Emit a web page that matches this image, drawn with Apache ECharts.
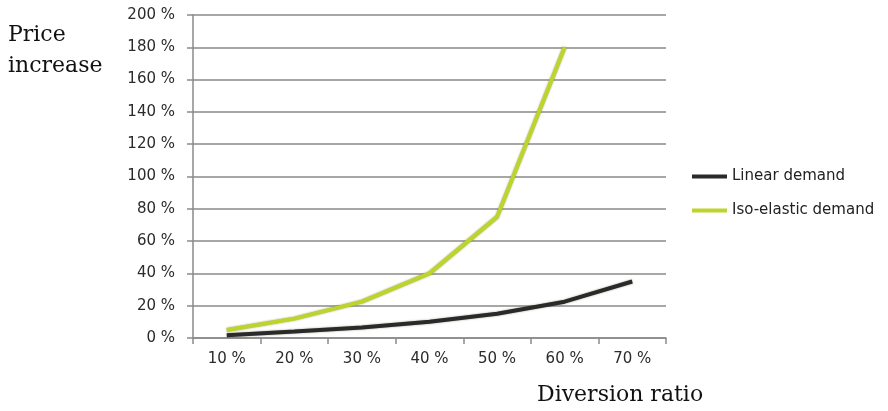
<!DOCTYPE html>
<html>
<head>
<meta charset="utf-8">
<script src="https://cdn.jsdelivr.net/npm/echarts@6/dist/echarts.min.js"></script>
<style>
  html, body { margin: 0; padding: 0; background: #fff; }
  #chart { width: 888px; height: 411px; }
</style>
</head>
<body>
<div id="chart"></div>
<script>
// Diversion ratio categories (x axis)
const diversionRatios = ['10 %', '20 %', '30 %', '40 %', '50 %', '60 %', '70 %'];
// Price increase in percent for each demand model
const linearDemand = [1.7, 4, 6.5, 10, 15, 22.5, 35];
const isoElasticDemand = [5, 12, 22.5, 40, 75, 180, null];
// Y axis range and step (percent)
const yMin = 0, yMax = 200, yStep = 20;

const chart = echarts.init(document.getElementById('chart'), null, { renderer: 'canvas' });

const tickFont = { fontFamily: 'DejaVu Sans', fontSize: 15, color: '#2b2b2b' };
const titleFont = { fontFamily: 'DejaVu Serif', fontSize: 22, fill: '#111' };

chart.setOption({
  animation: false,
  backgroundColor: '#fff',
  grid: { left: 193, right: 222, top: 15, bottom: 73, containLabel: false },
  legend: {
    orient: 'vertical',
    left: 687,
    top: 164,
    itemWidth: 35,
    itemHeight: 4,
    itemGap: 19,
    icon: 'rect',
    textStyle: { fontFamily: 'DejaVu Sans', fontSize: 15, color: '#222' },
    data: ['Linear demand', 'Iso-elastic demand']
  },
  xAxis: {
    type: 'category',
    data: diversionRatios,
    boundaryGap: true,
    axisLine: { lineStyle: { color: '#8a8a8a', width: 1.5 } },
    axisTick: { show: true, length: 6, lineStyle: { color: '#8a8a8a', width: 1.5 } },
    axisLabel: Object.assign({ margin: 14 }, tickFont),
    splitLine: { show: false }
  },
  yAxis: {
    type: 'value',
    min: yMin,
    max: yMax,
    interval: yStep,
    axisLine: { show: true, lineStyle: { color: '#8a8a8a', width: 1.5 } },
    axisTick: { show: true, length: 6, lineStyle: { color: '#8a8a8a', width: 1.5 } },
    axisLabel: Object.assign({ margin: 18, formatter: v => v + ' %' }, tickFont),
    splitLine: { show: true, lineStyle: { color: '#8a8a8a', width: 1.5 } }
  },
  series: [
    {
      name: 'Linear demand',
      type: 'line',
      data: linearDemand,
      showSymbol: false,
      symbol: 'none',
      color: '#2a2a2a',
      lineStyle: { color: '#2a2a2a', width: 4, shadowColor: 'rgba(60,70,20,0.5)', shadowBlur: 2 },
      z: 3
    },
    {
      name: 'Iso-elastic demand',
      type: 'line',
      data: isoElasticDemand,
      showSymbol: false,
      symbol: 'none',
      color: '#bcd42c',
      lineStyle: { color: '#bcd42c', width: 4, shadowColor: 'rgba(90,100,10,0.6)', shadowBlur: 2 },
      z: 4
    }
  ],
  graphic: [
    { type: 'text', left: 8, top: 20, style: Object.assign({ text: 'Price\nincrease', lineHeight: 31 }, titleFont) },
    { type: 'text', left: 537, top: 384, style: Object.assign({ text: 'Diversion ratio' }, titleFont) }
  ]
});
</script>
</body>
</html>
